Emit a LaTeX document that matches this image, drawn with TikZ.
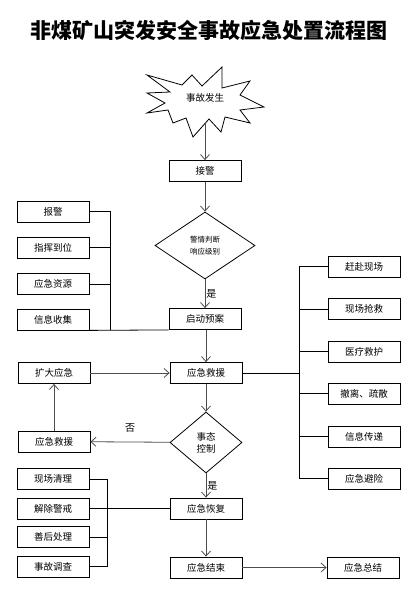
\documentclass[tikz,border=0pt]{standalone}
\usepackage{fontspec}
\setmainfont{Noto Sans CJK SC}
\usetikzlibrary{arrows.meta,shapes.geometric}

\begin{document}
\begin{tikzpicture}[x=1pt,y=-1pt,>={Straight Barb[length=5pt,width=9pt]},
  box/.style={draw,line width=0.8pt,minimum width=72pt,minimum height=21pt,inner sep=0pt,font=\fontsize{9.5}{10}\selectfont},
  judge/.style={draw,diamond,line width=0.8pt,inner sep=0pt,align=center},
  flow/.style={->,draw=black!70,line width=0.8pt},
  link/.style={draw,line width=0.8pt},
  tag/.style={font=\fontsize{10}{10}\selectfont,inner sep=1pt}]
\useasboundingbox (0,0) rectangle (420,602);
% title
\node[font=\fontsize{21}{21}\selectfont\bfseries] (title) at (209,30) {非煤矿山突发安全事故应急处置流程图};
% accident burst
\draw[line width=0.8pt] (147,75) -- (182,85) -- (192,75) -- (202,86) -- (222,67) -- (222,88)
  -- (250,81) -- (240,95) -- (264,107) -- (240,110) -- (250,123) -- (225,117) -- (221,132)
  -- (209,119) -- (193,137) -- (186,118) -- (173,123) -- (168,110) -- (147,113) -- (165,103)
  -- (147,93) -- (170,92) -- cycle;
\node[font=\fontsize{9.5}{10}\selectfont] (burst) at (205,98) {事故发生};
\coordinate (burstbot) at (205,122);
% main column
\node[box] (jiejing) at (205,171) {接警};
\node[judge,minimum width=100pt,minimum height=67pt,font=\fontsize{7.5}{12}\selectfont] (judge1) at (205,245.5) {警情判断\\响应级别};
\node[box] (qidong) at (205,319) {启动预案};
\node[box] (jiuyuan) at (206,373) {应急救援};
\node[judge,minimum width=72pt,minimum height=61pt,font=\fontsize{9.5}{12}\selectfont] (judge2) at (206,442.5) {事态\\控制};
\node[box] (huifu) at (206,508.5) {应急恢复};
\node[box] (jieshu) at (206,567.5) {应急结束};
\node[box] (zongjie) at (363,567.5) {应急总结};
% upper left
\node[box] (baojing) at (53,211.5) {报警};
\node[box] (zhihui) at (53,247.5) {指挥到位};
\node[box] (ziyuan) at (53,284) {应急资源};
\node[box] (xinxi) at (53,319.5) {信息收集};
% right side
\node[box] (ganfu) at (364,266.5) {赶赴现场};
\node[box] (qiangjiu) at (364,309) {现场抢救};
\node[box] (yiliao) at (364,351.5) {医疗救护};
\node[box] (cheli) at (364,393.5) {撤离、疏散};
\node[box] (chuandi) at (364,436.5) {信息传递};
\node[box] (bixian) at (364,478.5) {应急避险};
% middle left
\node[box] (kuoda) at (54,373) {扩大应急};
\node[box] (jiuyuan2) at (54,441.5) {应急救援};
% lower left
\node[box] (qingli) at (53,479) {现场清理};
\node[box] (jiechu) at (53,508.5) {解除警戒};
\node[box] (shanhou) at (53,537) {善后处理};
\node[box] (diaocha) at (53,566.5) {事故调查};
% arrows
\draw[flow] (burstbot) -- (jiejing);
\draw[flow] (jiejing) -- (judge1);
\draw[flow] (judge1) -- node[tag,right]{是} (qidong);
\draw[flow] (qidong.south -| jiuyuan) -- (jiuyuan);
\draw[flow] (kuoda) -- (jiuyuan);
\draw[flow] (jiuyuan) -- (judge2);
\draw[flow] (judge2) -- node[tag,above=8pt]{否} (jiuyuan2);
\draw[flow] (jiuyuan2) -- (kuoda);
\draw[flow] (judge2) -- node[tag,right]{是} (huifu);
\draw[flow] (huifu) -- (jieshu);
\draw[flow] (jieshu) -- (zongjie);
% buses
\coordinate (busl) at (110,211.5);
\draw[link] (baojing.east) -- (busl) -- (busl |- qidong.south);
\draw[link] (zhihui.east) -- (zhihui.east -| busl);
\draw[link] (ziyuan.east) -- (ziyuan.east -| busl);
\draw[link] (xinxi.south east) -- (qidong.south west);
\coordinate (busr) at (299,266.5);
\draw[link] (ganfu.west) -- (busr) |- (bixian.west);
\draw[link] (qiangjiu.west) -- (qiangjiu.west -| busr);
\draw[link] (yiliao.west) -- (yiliao.west -| busr);
\draw[link] (cheli.west) -- (cheli.west -| busr);
\draw[link] (chuandi.west) -- (chuandi.west -| busr);
\draw[link] (jiuyuan.east) -- (jiuyuan.east -| busr);
\coordinate (busd) at (107,479);
\draw[link] (qingli.east) -- (busd) |- (diaocha.east);
\draw[link] (shanhou.east) -- (shanhou.east -| busd);
\draw[link] (jiechu.east) -- (huifu.west);
\end{tikzpicture}
\end{document}
